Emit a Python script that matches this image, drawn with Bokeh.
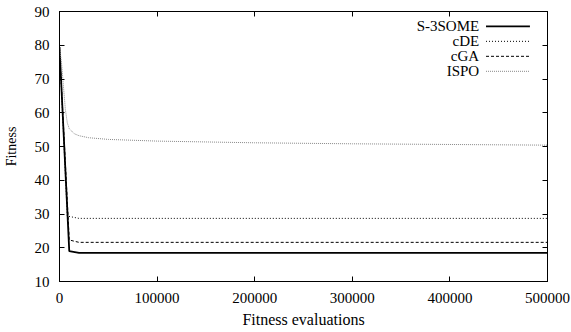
from bokeh.plotting import figure
from bokeh.models import FixedTicker, LinearAxis, Range1d, BasicTickFormatter
from bokeh.core.properties import value
from bokeh.embed import file_html
from bokeh.resources import INLINE

# ---- data ----
s3some_x = [0, 10000, 20000, 500000]
s3some_y = [79.5, 19.0, 18.5, 18.5]

cde_x = [0, 8000, 20000, 500000]
cde_y = [79.5, 29.4, 28.7, 28.7]

cga_x = [0, 10000, 20000, 500000]
cga_y = [79.5, 22.3, 21.6, 21.6]

ispo_x = [0, 2000, 4000, 6000, 8000, 10000, 15000, 20000, 30000, 50000,
          100000, 200000, 300000, 400000, 500000]
ispo_y = [79.5, 75.0, 68.0, 61.0, 57.0, 55.3, 53.8, 53.2, 52.6, 52.1,
          51.6, 51.1, 50.8, 50.6, 50.4]

x_ticks = [0, 100000, 200000, 300000, 400000, 500000]
y_ticks = [10, 20, 30, 40, 50, 60, 70, 80, 90]

series_names = ["S-3SOME", "cDE", "cGA", "ISPO"]

FONT = "Liberation Serif"
FS = "15px"

X0, X1 = 0, 500000
Y0, Y1 = 10, 90

p = figure(width=571, height=332, output_backend="svg", toolbar_location=None,
           x_range=Range1d(X0, X1), y_range=Range1d(Y0, Y1),
           min_border_left=58, min_border_right=24, min_border_top=11,
           min_border_bottom=51)
p.background_fill_color = "white"
p.border_fill_color = "white"
p.outline_line_color = "black"
p.outline_line_width = 1
p.grid.visible = False

styles = [
    dict(line_color="black", line_width=1.8, line_dash="solid"),
    dict(line_color="black", line_width=1, line_dash="1 2"),
    dict(line_color="black", line_width=1, line_dash="3 2"),
    dict(line_color="#888888", line_width=1, line_dash="1 1"),
]
xs = [s3some_x, cde_x, cga_x, ispo_x]
ys = [s3some_y, cde_y, cga_y, ispo_y]

for x, y, st in zip(xs, ys, styles):
    p.line(x, y, **st)

# axes
for ax, ticks in ((p.xaxis[0], x_ticks), (p.yaxis[0], y_ticks)):
    ax.ticker = FixedTicker(ticks=ticks)
    ax.minor_tick_line_color = None
    ax.major_tick_in = 5
    ax.major_tick_out = 0
    ax.axis_line_color = "black"
    ax.major_tick_line_color = "black"
    ax.major_label_text_font = FONT
    ax.major_label_text_font_size = FS
    ax.major_label_text_color = "black"
    ax.axis_label_text_font = FONT
    ax.axis_label_text_font_style = "normal"
    ax.axis_label_text_color = "black"

p.xaxis[0].formatter = BasicTickFormatter(use_scientific=False)
p.xaxis[0].axis_label = "Fitness evaluations"
p.xaxis[0].axis_label_text_font_size = "16px"
p.xaxis[0].major_label_standoff = 11
p.xaxis[0].axis_label_standoff = 5
p.yaxis[0].axis_label = "Fitness"
p.yaxis[0].axis_label_text_font_size = "14px"
p.yaxis[0].major_label_standoff = 10
p.yaxis[0].axis_label_standoff = 13

# mirrored ticks on top and right (no labels)
for loc, ticks in (("above", x_ticks), ("right", y_ticks)):
    ax = LinearAxis(ticker=FixedTicker(ticks=ticks))
    ax.minor_tick_line_color = None
    ax.major_tick_in = 5
    ax.major_tick_out = 0
    ax.major_label_overrides = {t: "" for t in ticks}
    ax.major_label_text_font_size = "1px"
    ax.major_label_standoff = 0
    ax.axis_line_color = "black"
    p.add_layout(ax, loc)

# legend (gnuplot style: label then sample)
leg_text_fx = 0.860     # fraction of frame width where labels end
leg_line_f0 = 0.874
leg_line_f1 = 0.964
leg_top_fy = 0.945      # fraction of frame height of first row
leg_step_fy = 0.0555

for i, (name, st) in enumerate(zip(series_names, styles)):
    fy = leg_top_fy - i * leg_step_fy
    yv = Y0 + fy * (Y1 - Y0)
    p.text(x=[X0 + leg_text_fx * (X1 - X0)], y=[yv], text=[name],
           text_align="right", text_baseline="middle",
           text_font=value(FONT), text_font_size=FS, text_color="black")
    p.segment(x0=[X0 + leg_line_f0 * (X1 - X0)], x1=[X0 + leg_line_f1 * (X1 - X0)],
              y0=[yv], y1=[yv], **st)

open("out.html", "w").write(file_html(p, INLINE))
